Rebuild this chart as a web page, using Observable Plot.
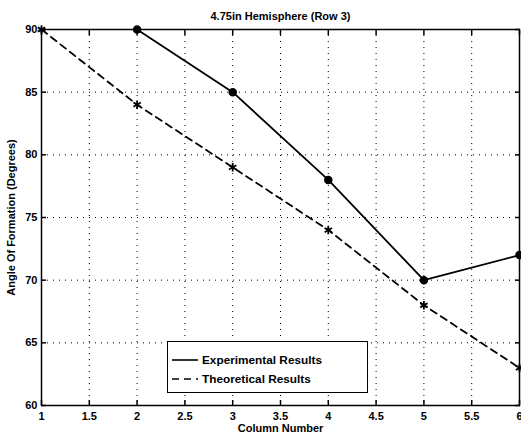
<!DOCTYPE html>
<html><head><meta charset="utf-8">
<script src="https://cdn.jsdelivr.net/npm/d3@7"></script>
<script src="https://cdn.jsdelivr.net/npm/@observablehq/plot@0.6"></script>
<style>
body{margin:0;background:#fff;}
#wrap{position:relative;width:521px;height:440px;font-family:"Liberation Sans",Arial,sans-serif;font-weight:bold;}
#legend{position:absolute;left:167px;top:341px;width:199px;height:50px;border:1.5px solid #000;background:#fff;font-size:11.8px;}
#legend .row{position:absolute;left:4px;display:flex;align-items:center;line-height:14px;}
#legend svg{margin-right:4px;}
</style>
</head><body>
<div id="wrap"></div>
<script>
const title = "4.75in Hemisphere (Row 3)";
const xLabel = "Column Number";
const yLabel = "Angle Of Formation (Degrees)";
const expX = [2, 3, 4, 5, 6];
const expY = [90, 85, 78, 70, 72];
const theoX = [1, 2, 3, 4, 5, 6];
const theoY = [90, 84, 79, 74, 68, 63];
const xTicks = [1, 1.5, 2, 2.5, 3, 3.5, 4, 4.5, 5, 5.5, 6];
const yTicks = [60, 65, 70, 75, 80, 85, 90];
const legendLabels = ["Experimental Results", "Theoretical Results"];

const exp = expX.map((x, i) => ({x, y: expY[i]}));
const theo = theoX.map((x, i) => ({x, y: theoY[i]}));

const font = "Liberation Sans, Arial, sans-serif";
const chart = Plot.plot({
  width: 521, height: 440,
  marginLeft: 41, marginRight: 2, marginTop: 29, marginBottom: 35,
  style: {fontFamily: font, fontWeight: "bold", fontSize: "11px", background: "#fff", color: "#000"},
  x: {domain: [1, 6]},
  y: {domain: [60, 90]},
  marks: [
    Plot.gridX(xTicks, {stroke: "#000", strokeOpacity: 1, strokeWidth: 1, strokeDasharray: "1,5"}),
    Plot.gridY(yTicks, {stroke: "#000", strokeOpacity: 1, strokeWidth: 1, strokeDasharray: "1,5"}),
    Plot.axisX(xTicks, {anchor: "bottom", tickSize: -5, tickPadding: 12, tickFormat: d => String(d), label: xLabel, labelAnchor: "center", labelArrow: "none", labelOffset: 26, strokeWidth: 1.5, fontWeight: "bold"}),
    Plot.axisX(xTicks, {anchor: "top", tickSize: -5, tickFormat: () => "", label: null, strokeWidth: 1.5}),
    Plot.axisY(yTicks, {anchor: "left", tickSize: -5, tickPadding: 9, label: yLabel, labelAnchor: "center", labelArrow: "none", labelOffset: 34, strokeWidth: 1.5, fontWeight: "bold"}),
    Plot.axisY(yTicks, {anchor: "right", tickSize: -5, tickFormat: () => "", label: null, strokeWidth: 1.5}),
    Plot.frame({stroke: "#000", strokeWidth: 1.5}),
    Plot.line(theo, {x: "x", y: "y", stroke: "#000", strokeWidth: 1.8, strokeDasharray: "7,5"}),
    Plot.dot(theo, {x: "x", y: "y", symbol: "asterisk", r: 4, stroke: "#000", strokeWidth: 1.8}),
    Plot.line(exp, {x: "x", y: "y", stroke: "#000", strokeWidth: 1.8}),
    Plot.dot(exp, {x: "x", y: "y", symbol: "circle", r: 3.5, fill: "#000", stroke: "#000"}),
    Plot.text([title], {frameAnchor: "top", dy: -17, fontSize: 11, fontWeight: "bold"})
  ]
});
const wrap = document.getElementById("wrap");
wrap.appendChild(chart);
const lg = document.createElement("div");
lg.id = "legend";
legendLabels.forEach((lab, i) => {
  const row = document.createElement("div");
  row.className = "row";
  row.style.top = (i === 0 ? 11 : 30) + "px";
  row.innerHTML = `<svg width="26" height="6"><line x1="0" y1="3" x2="26" y2="3" stroke="#000" stroke-width="1.6" ${i === 1 ? 'stroke-dasharray="7,5"' : ''}/></svg><span>${lab}</span>`;
  lg.appendChild(row);
});
wrap.appendChild(lg);
</script>
</body></html>
